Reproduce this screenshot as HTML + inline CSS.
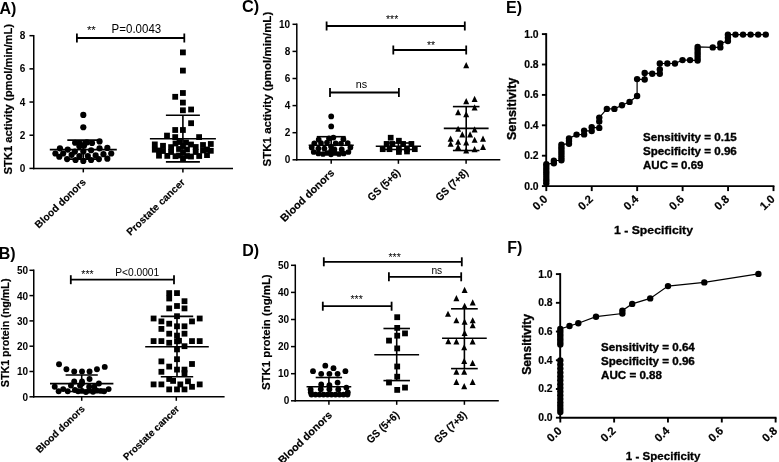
<!DOCTYPE html><html><head><meta charset="utf-8"><style>html,body{margin:0;padding:0;background:#fff;}svg{display:block;}text{font-family:"Liberation Sans",sans-serif;fill:#000;}</style></head><body>
<svg width="779" height="462" viewBox="0 0 779 462" style="filter:grayscale(1)">
<rect width="779" height="462" fill="#fff"/>
<text x="-0.60" y="13.80" font-size="16" font-weight="bold">A)</text>
<text x="-1.20" y="258.80" font-size="16" font-weight="bold">B)</text>
<text x="242.00" y="12.30" font-size="16.3" font-weight="bold">C)</text>
<text x="242.30" y="255.60" font-size="16" font-weight="bold">D)</text>
<text x="506.10" y="12.80" font-size="16" font-weight="bold">E)</text>
<text x="507.20" y="252.80" font-size="16" font-weight="bold">F)</text>
<line x1="33.75" y1="34.93" x2="33.75" y2="169.15" stroke="#000" stroke-width="1.5"/>
<line x1="29.45" y1="168.40" x2="33.75" y2="168.40" stroke="#000" stroke-width="1.5"/>
<text x="25.20" y="172.00" font-size="10" font-weight="bold" text-anchor="end">0</text>
<line x1="29.45" y1="135.22" x2="33.75" y2="135.22" stroke="#000" stroke-width="1.5"/>
<text x="25.20" y="138.82" font-size="10" font-weight="bold" text-anchor="end">2</text>
<line x1="29.45" y1="102.04" x2="33.75" y2="102.04" stroke="#000" stroke-width="1.5"/>
<text x="25.20" y="105.64" font-size="10" font-weight="bold" text-anchor="end">4</text>
<line x1="29.45" y1="68.86" x2="33.75" y2="68.86" stroke="#000" stroke-width="1.5"/>
<text x="25.20" y="72.46" font-size="10" font-weight="bold" text-anchor="end">6</text>
<line x1="29.45" y1="35.68" x2="33.75" y2="35.68" stroke="#000" stroke-width="1.5"/>
<text x="25.20" y="39.28" font-size="10" font-weight="bold" text-anchor="end">8</text>
<line x1="33.00" y1="168.40" x2="233.00" y2="168.40" stroke="#000" stroke-width="1.5"/>
<line x1="83.30" y1="168.40" x2="83.30" y2="172.40" stroke="#000" stroke-width="1.5"/>
<line x1="182.90" y1="168.40" x2="182.90" y2="172.40" stroke="#000" stroke-width="1.5"/>
<text x="12.50" y="99.20" font-size="11.8" font-weight="bold" text-anchor="middle" textLength="150.50" lengthAdjust="spacingAndGlyphs" transform="rotate(-90 12.50 99.20)" stroke="#000" stroke-width="0.2">STK1 activity (pmol/min/mL)</text>
<text x="86.50" y="182.80" font-size="10.2" font-weight="bold" text-anchor="end" transform="rotate(-44 86.50 182.80)" stroke="#000" stroke-width="0.15">Blood donors</text>
<text x="185.60" y="183.00" font-size="10.2" font-weight="bold" text-anchor="end" transform="rotate(-44 185.60 183.00)" stroke="#000" stroke-width="0.15">Prostate cancer</text>
<line x1="76.90" y1="38.00" x2="184.30" y2="38.00" stroke="#000" stroke-width="1.8"/>
<line x1="76.90" y1="33.50" x2="76.90" y2="42.50" stroke="#000" stroke-width="1.8"/>
<line x1="184.30" y1="33.50" x2="184.30" y2="42.50" stroke="#000" stroke-width="1.8"/>
<text x="86.90" y="34.00" font-size="11.5" font-weight="normal">**</text>
<text x="111.60" y="32.90" font-size="13" font-weight="normal" textLength="49.60" lengthAdjust="spacingAndGlyphs">P=0.0043</text>
<line x1="49.80" y1="149.60" x2="116.80" y2="149.60" stroke="#000" stroke-width="1.6"/>
<line x1="67.30" y1="159.10" x2="99.30" y2="159.10" stroke="#000" stroke-width="1.6"/>
<line x1="67.30" y1="140.10" x2="99.30" y2="140.10" stroke="#000" stroke-width="1.6"/>
<line x1="83.30" y1="159.10" x2="83.30" y2="140.10" stroke="#000" stroke-width="1.6"/>
<circle cx="83.31" cy="114.94" r="3.1"/>
<circle cx="83.31" cy="127.27" r="3.1"/>
<circle cx="75.13" cy="142.73" r="3.1"/>
<circle cx="79.81" cy="143.51" r="3.1"/>
<circle cx="86.82" cy="142.47" r="3.1"/>
<circle cx="92.01" cy="142.99" r="3.1"/>
<circle cx="99.55" cy="141.43" r="3.1"/>
<circle cx="79.42" cy="146.36" r="3.1"/>
<circle cx="83.96" cy="145.71" r="3.1"/>
<circle cx="59.94" cy="148.31" r="3.1"/>
<circle cx="67.73" cy="149.61" r="3.1"/>
<circle cx="99.55" cy="148.31" r="3.1"/>
<circle cx="107.34" cy="147.92" r="3.1"/>
<circle cx="55.39" cy="153.51" r="3.1"/>
<circle cx="63.18" cy="153.51" r="3.1"/>
<circle cx="74.87" cy="151.56" r="3.1"/>
<circle cx="83.31" cy="151.56" r="3.1"/>
<circle cx="91.10" cy="150.26" r="3.1"/>
<circle cx="103.44" cy="154.16" r="3.1"/>
<circle cx="111.23" cy="153.51" r="3.1"/>
<circle cx="59.29" cy="156.75" r="3.1"/>
<circle cx="71.62" cy="154.81" r="3.1"/>
<circle cx="79.42" cy="156.10" r="3.1"/>
<circle cx="87.86" cy="156.10" r="3.1"/>
<circle cx="95.65" cy="155.45" r="3.1"/>
<circle cx="67.08" cy="159.09" r="3.1"/>
<circle cx="75.52" cy="160.00" r="3.1"/>
<circle cx="83.31" cy="160.91" r="3.1"/>
<circle cx="91.10" cy="160.00" r="3.1"/>
<circle cx="98.90" cy="159.09" r="3.1"/>
<circle cx="107.34" cy="158.70" r="3.1"/>
<line x1="149.90" y1="138.70" x2="215.90" y2="138.70" stroke="#000" stroke-width="1.6"/>
<line x1="165.90" y1="161.90" x2="199.90" y2="161.90" stroke="#000" stroke-width="1.6"/>
<line x1="165.90" y1="115.20" x2="199.90" y2="115.20" stroke="#000" stroke-width="1.6"/>
<line x1="182.90" y1="161.90" x2="182.90" y2="115.20" stroke="#000" stroke-width="1.6"/>
<rect x="180.00" y="49.50" width="5.8" height="5.8"/>
<rect x="180.00" y="67.70" width="5.8" height="5.8"/>
<rect x="180.00" y="90.10" width="5.8" height="5.8"/>
<rect x="172.30" y="93.90" width="5.8" height="5.8"/>
<rect x="180.00" y="99.70" width="5.8" height="5.8"/>
<rect x="180.00" y="107.40" width="5.8" height="5.8"/>
<rect x="188.20" y="106.60" width="5.8" height="5.8"/>
<rect x="188.20" y="120.30" width="5.8" height="5.8"/>
<rect x="172.30" y="127.10" width="5.8" height="5.8"/>
<rect x="180.00" y="127.10" width="5.8" height="5.8"/>
<rect x="164.10" y="132.70" width="5.8" height="5.8"/>
<rect x="172.30" y="134.20" width="5.8" height="5.8"/>
<rect x="196.20" y="134.20" width="5.8" height="5.8"/>
<rect x="151.90" y="141.50" width="5.8" height="5.8"/>
<rect x="151.90" y="146.80" width="5.8" height="5.8"/>
<rect x="156.10" y="152.80" width="5.8" height="5.8"/>
<rect x="160.10" y="142.90" width="5.8" height="5.8"/>
<rect x="160.10" y="148.10" width="5.8" height="5.8"/>
<rect x="164.40" y="153.00" width="5.8" height="5.8"/>
<rect x="168.20" y="144.20" width="5.8" height="5.8"/>
<rect x="168.20" y="149.10" width="5.8" height="5.8"/>
<rect x="172.60" y="153.30" width="5.8" height="5.8"/>
<rect x="172.60" y="140.60" width="5.8" height="5.8"/>
<rect x="207.90" y="141.10" width="5.8" height="5.8"/>
<rect x="207.90" y="147.90" width="5.8" height="5.8"/>
<rect x="204.10" y="152.20" width="5.8" height="5.8"/>
<rect x="200.10" y="142.10" width="5.8" height="5.8"/>
<rect x="200.10" y="147.60" width="5.8" height="5.8"/>
<rect x="196.30" y="153.10" width="5.8" height="5.8"/>
<rect x="192.80" y="144.10" width="5.8" height="5.8"/>
<rect x="192.80" y="149.10" width="5.8" height="5.8"/>
<rect x="188.10" y="153.60" width="5.8" height="5.8"/>
<rect x="176.60" y="139.10" width="5.8" height="5.8"/>
<rect x="183.10" y="139.60" width="5.8" height="5.8"/>
<rect x="180.10" y="143.10" width="5.8" height="5.8"/>
<rect x="176.10" y="146.10" width="5.8" height="5.8"/>
<rect x="184.10" y="146.60" width="5.8" height="5.8"/>
<rect x="188.10" y="141.60" width="5.8" height="5.8"/>
<rect x="180.10" y="149.60" width="5.8" height="5.8"/>
<rect x="176.10" y="152.60" width="5.8" height="5.8"/>
<rect x="184.10" y="153.10" width="5.8" height="5.8"/>
<rect x="180.10" y="155.60" width="5.8" height="5.8"/>
<rect x="156.10" y="147.60" width="5.8" height="5.8"/>
<rect x="204.10" y="146.60" width="5.8" height="5.8"/>
<line x1="33.75" y1="269.55" x2="33.75" y2="397.55" stroke="#000" stroke-width="1.5"/>
<line x1="29.45" y1="396.80" x2="33.75" y2="396.80" stroke="#000" stroke-width="1.5"/>
<text x="28.00" y="400.70" font-size="10" font-weight="bold" text-anchor="end">0</text>
<line x1="29.45" y1="371.50" x2="33.75" y2="371.50" stroke="#000" stroke-width="1.5"/>
<text x="28.00" y="375.40" font-size="10" font-weight="bold" text-anchor="end">10</text>
<line x1="29.45" y1="346.20" x2="33.75" y2="346.20" stroke="#000" stroke-width="1.5"/>
<text x="28.00" y="350.10" font-size="10" font-weight="bold" text-anchor="end">20</text>
<line x1="29.45" y1="320.90" x2="33.75" y2="320.90" stroke="#000" stroke-width="1.5"/>
<text x="28.00" y="324.80" font-size="10" font-weight="bold" text-anchor="end">30</text>
<line x1="29.45" y1="295.60" x2="33.75" y2="295.60" stroke="#000" stroke-width="1.5"/>
<text x="28.00" y="299.50" font-size="10" font-weight="bold" text-anchor="end">40</text>
<line x1="29.45" y1="270.30" x2="33.75" y2="270.30" stroke="#000" stroke-width="1.5"/>
<text x="28.00" y="274.20" font-size="10" font-weight="bold" text-anchor="end">50</text>
<line x1="33.00" y1="396.80" x2="224.60" y2="396.80" stroke="#000" stroke-width="1.5"/>
<line x1="81.70" y1="396.80" x2="81.70" y2="400.80" stroke="#000" stroke-width="1.5"/>
<line x1="176.30" y1="396.80" x2="176.30" y2="400.80" stroke="#000" stroke-width="1.5"/>
<text x="9.50" y="332.90" font-size="10.6" font-weight="bold" text-anchor="middle" textLength="108.70" lengthAdjust="spacingAndGlyphs" transform="rotate(-90 9.50 332.90)" stroke="#000" stroke-width="0.2">STK1 protein (ng/mL)</text>
<text x="85.50" y="409.40" font-size="9.8" font-weight="bold" text-anchor="end" transform="rotate(-44 85.50 409.40)" stroke="#000" stroke-width="0.15">Blood donors</text>
<text x="180.00" y="409.70" font-size="9.8" font-weight="bold" text-anchor="end" transform="rotate(-44 180.00 409.70)" stroke="#000" stroke-width="0.15">Prostate cancer</text>
<line x1="70.80" y1="279.70" x2="174.00" y2="279.70" stroke="#000" stroke-width="1.8"/>
<line x1="70.80" y1="275.20" x2="70.80" y2="284.20" stroke="#000" stroke-width="1.8"/>
<line x1="174.00" y1="275.20" x2="174.00" y2="284.20" stroke="#000" stroke-width="1.8"/>
<text x="81.30" y="277.80" font-size="10.5" font-weight="normal">***</text>
<text x="115.20" y="275.80" font-size="10" font-weight="normal" textLength="44.00" lengthAdjust="spacingAndGlyphs">P&lt;0.0001</text>
<line x1="50.00" y1="383.60" x2="113.40" y2="383.60" stroke="#000" stroke-width="1.6"/>
<line x1="65.60" y1="391.50" x2="97.80" y2="391.50" stroke="#000" stroke-width="1.6"/>
<line x1="65.60" y1="375.00" x2="97.80" y2="375.00" stroke="#000" stroke-width="1.6"/>
<line x1="81.70" y1="391.50" x2="81.70" y2="375.00" stroke="#000" stroke-width="1.6"/>
<circle cx="59.03" cy="364.29" r="2.95"/>
<circle cx="66.43" cy="369.22" r="2.95"/>
<circle cx="74.22" cy="371.43" r="2.95"/>
<circle cx="82.01" cy="371.43" r="2.95"/>
<circle cx="89.55" cy="371.43" r="2.95"/>
<circle cx="96.95" cy="369.22" r="2.95"/>
<circle cx="104.74" cy="366.88" r="2.95"/>
<circle cx="89.55" cy="378.96" r="2.95"/>
<circle cx="74.22" cy="381.56" r="2.95"/>
<circle cx="82.01" cy="381.56" r="2.95"/>
<circle cx="98.90" cy="383.51" r="2.95"/>
<circle cx="54.74" cy="386.75" r="2.95"/>
<circle cx="70.97" cy="385.45" r="2.95"/>
<circle cx="80.06" cy="385.45" r="2.95"/>
<circle cx="89.16" cy="386.75" r="2.95"/>
<circle cx="94.35" cy="386.75" r="2.95"/>
<circle cx="82.01" cy="383.51" r="2.95"/>
<circle cx="58.64" cy="391.30" r="2.95"/>
<circle cx="63.18" cy="389.09" r="2.95"/>
<circle cx="67.73" cy="391.30" r="2.95"/>
<circle cx="74.87" cy="390.00" r="2.95"/>
<circle cx="82.01" cy="390.91" r="2.95"/>
<circle cx="89.16" cy="390.65" r="2.95"/>
<circle cx="96.95" cy="390.65" r="2.95"/>
<circle cx="104.09" cy="391.30" r="2.95"/>
<circle cx="108.64" cy="389.09" r="2.95"/>
<circle cx="78.12" cy="391.30" r="2.95"/>
<circle cx="85.91" cy="391.95" r="2.95"/>
<circle cx="93.05" cy="391.69" r="2.95"/>
<circle cx="100.84" cy="390.91" r="2.95"/>
<line x1="145.20" y1="346.80" x2="208.80" y2="346.80" stroke="#000" stroke-width="1.6"/>
<line x1="160.80" y1="376.80" x2="193.20" y2="376.80" stroke="#000" stroke-width="1.6"/>
<line x1="160.80" y1="316.40" x2="193.20" y2="316.40" stroke="#000" stroke-width="1.6"/>
<line x1="177.00" y1="376.80" x2="177.00" y2="316.40" stroke="#000" stroke-width="1.6"/>
<rect x="166.30" y="290.20" width="5.8" height="5.8"/>
<rect x="166.30" y="295.60" width="5.8" height="5.8"/>
<rect x="174.10" y="290.20" width="5.8" height="5.8"/>
<rect x="181.60" y="298.30" width="5.8" height="5.8"/>
<rect x="166.30" y="305.50" width="5.8" height="5.8"/>
<rect x="174.10" y="303.10" width="5.8" height="5.8"/>
<rect x="181.60" y="305.50" width="5.8" height="5.8"/>
<rect x="174.10" y="313.30" width="5.8" height="5.8"/>
<rect x="150.70" y="315.60" width="5.8" height="5.8"/>
<rect x="196.80" y="315.60" width="5.8" height="5.8"/>
<rect x="158.50" y="318.50" width="5.8" height="5.8"/>
<rect x="189.10" y="318.50" width="5.8" height="5.8"/>
<rect x="166.30" y="320.80" width="5.8" height="5.8"/>
<rect x="174.10" y="323.40" width="5.8" height="5.8"/>
<rect x="181.60" y="323.40" width="5.8" height="5.8"/>
<rect x="158.50" y="326.00" width="5.8" height="5.8"/>
<rect x="166.30" y="330.80" width="5.8" height="5.8"/>
<rect x="174.10" y="332.70" width="5.8" height="5.8"/>
<rect x="181.60" y="330.80" width="5.8" height="5.8"/>
<rect x="150.70" y="338.20" width="5.8" height="5.8"/>
<rect x="158.50" y="338.20" width="5.8" height="5.8"/>
<rect x="166.30" y="339.90" width="5.8" height="5.8"/>
<rect x="176.10" y="337.90" width="5.8" height="5.8"/>
<rect x="189.10" y="338.20" width="5.8" height="5.8"/>
<rect x="196.80" y="338.20" width="5.8" height="5.8"/>
<rect x="174.10" y="338.40" width="5.8" height="5.8"/>
<rect x="181.60" y="343.30" width="5.8" height="5.8"/>
<rect x="174.10" y="346.50" width="5.8" height="5.8"/>
<rect x="174.10" y="356.30" width="5.8" height="5.8"/>
<rect x="158.50" y="358.50" width="5.8" height="5.8"/>
<rect x="189.10" y="361.10" width="5.8" height="5.8"/>
<rect x="166.30" y="363.70" width="5.8" height="5.8"/>
<rect x="174.10" y="366.70" width="5.8" height="5.8"/>
<rect x="181.60" y="366.70" width="5.8" height="5.8"/>
<rect x="181.60" y="370.20" width="5.8" height="5.8"/>
<rect x="158.50" y="368.90" width="5.8" height="5.8"/>
<rect x="166.30" y="376.10" width="5.8" height="5.8"/>
<rect x="170.20" y="378.00" width="5.8" height="5.8"/>
<rect x="185.10" y="378.40" width="5.8" height="5.8"/>
<rect x="150.70" y="381.50" width="5.8" height="5.8"/>
<rect x="158.50" y="381.50" width="5.8" height="5.8"/>
<rect x="177.40" y="381.50" width="5.8" height="5.8"/>
<rect x="189.10" y="383.90" width="5.8" height="5.8"/>
<rect x="196.80" y="381.50" width="5.8" height="5.8"/>
<rect x="166.30" y="386.50" width="5.8" height="5.8"/>
<rect x="174.10" y="386.50" width="5.8" height="5.8"/>
<rect x="181.60" y="386.50" width="5.8" height="5.8"/>
<line x1="296.80" y1="23.55" x2="296.80" y2="160.55" stroke="#000" stroke-width="1.5"/>
<line x1="292.50" y1="159.80" x2="296.80" y2="159.80" stroke="#000" stroke-width="1.5"/>
<text x="290.20" y="163.40" font-size="10" font-weight="bold" text-anchor="end">0</text>
<line x1="292.50" y1="132.70" x2="296.80" y2="132.70" stroke="#000" stroke-width="1.5"/>
<text x="290.20" y="136.30" font-size="10" font-weight="bold" text-anchor="end">2</text>
<line x1="292.50" y1="105.60" x2="296.80" y2="105.60" stroke="#000" stroke-width="1.5"/>
<text x="290.20" y="109.20" font-size="10" font-weight="bold" text-anchor="end">4</text>
<line x1="292.50" y1="78.50" x2="296.80" y2="78.50" stroke="#000" stroke-width="1.5"/>
<text x="290.20" y="82.10" font-size="10" font-weight="bold" text-anchor="end">6</text>
<line x1="292.50" y1="51.40" x2="296.80" y2="51.40" stroke="#000" stroke-width="1.5"/>
<text x="290.20" y="55.00" font-size="10" font-weight="bold" text-anchor="end">8</text>
<line x1="292.50" y1="24.30" x2="296.80" y2="24.30" stroke="#000" stroke-width="1.5"/>
<text x="290.20" y="27.90" font-size="10" font-weight="bold" text-anchor="end">10</text>
<line x1="296.05" y1="159.80" x2="500.30" y2="159.80" stroke="#000" stroke-width="1.5"/>
<line x1="331.20" y1="159.80" x2="331.20" y2="163.80" stroke="#000" stroke-width="1.5"/>
<line x1="398.40" y1="159.80" x2="398.40" y2="163.80" stroke="#000" stroke-width="1.5"/>
<line x1="466.10" y1="159.80" x2="466.10" y2="163.80" stroke="#000" stroke-width="1.5"/>
<text x="271.50" y="89.10" font-size="11.6" font-weight="bold" text-anchor="middle" textLength="154.70" lengthAdjust="spacingAndGlyphs" transform="rotate(-90 271.50 89.10)" stroke="#000" stroke-width="0.2">STK1 activity (pmol/min/mL)</text>
<text x="335.10" y="173.70" font-size="10.8" font-weight="bold" text-anchor="end" transform="rotate(-44 335.10 173.70)" stroke="#000" stroke-width="0.15">Blood donors</text>
<text x="401.00" y="173.50" font-size="10.8" font-weight="bold" text-anchor="end" textLength="40.50" lengthAdjust="spacingAndGlyphs" transform="rotate(-44 401.00 173.50)" stroke="#000" stroke-width="0.15">GS (5+6)</text>
<text x="468.80" y="173.50" font-size="10.8" font-weight="bold" text-anchor="end" textLength="40.50" lengthAdjust="spacingAndGlyphs" transform="rotate(-44 468.80 173.50)" stroke="#000" stroke-width="0.15">GS (7+8)</text>
<line x1="326.60" y1="26.00" x2="464.80" y2="26.00" stroke="#000" stroke-width="1.8"/>
<line x1="326.60" y1="21.50" x2="326.60" y2="30.50" stroke="#000" stroke-width="1.8"/>
<line x1="464.80" y1="21.50" x2="464.80" y2="30.50" stroke="#000" stroke-width="1.8"/>
<line x1="393.30" y1="50.00" x2="466.20" y2="50.00" stroke="#000" stroke-width="1.8"/>
<line x1="393.30" y1="45.50" x2="393.30" y2="54.50" stroke="#000" stroke-width="1.8"/>
<line x1="466.20" y1="45.50" x2="466.20" y2="54.50" stroke="#000" stroke-width="1.8"/>
<line x1="330.00" y1="92.50" x2="398.90" y2="92.50" stroke="#000" stroke-width="1.8"/>
<line x1="330.00" y1="88.00" x2="330.00" y2="97.00" stroke="#000" stroke-width="1.8"/>
<line x1="398.90" y1="88.00" x2="398.90" y2="97.00" stroke="#000" stroke-width="1.8"/>
<text x="386.00" y="22.50" font-size="10.5" font-weight="normal">***</text>
<text x="427.00" y="48.80" font-size="10.5" font-weight="normal">**</text>
<text x="355.80" y="88.30" font-size="11" font-weight="normal" textLength="11.40" lengthAdjust="spacingAndGlyphs">ns</text>
<line x1="308.65" y1="145.30" x2="353.75" y2="145.30" stroke="#000" stroke-width="1.6"/>
<line x1="316.75" y1="154.00" x2="345.65" y2="154.00" stroke="#000" stroke-width="1.6"/>
<line x1="316.75" y1="136.70" x2="345.65" y2="136.70" stroke="#000" stroke-width="1.6"/>
<line x1="331.20" y1="154.00" x2="331.20" y2="136.70" stroke="#000" stroke-width="1.6"/>
<circle cx="331.20" cy="116.40" r="2.85"/>
<circle cx="331.20" cy="126.40" r="2.85"/>
<circle cx="318.70" cy="139.70" r="2.85"/>
<circle cx="329.00" cy="138.40" r="2.85"/>
<circle cx="333.40" cy="137.60" r="2.85"/>
<circle cx="343.40" cy="139.20" r="2.85"/>
<circle cx="314.30" cy="143.30" r="2.85"/>
<circle cx="321.00" cy="143.00" r="2.85"/>
<circle cx="327.00" cy="142.50" r="2.85"/>
<circle cx="335.70" cy="143.30" r="2.85"/>
<circle cx="341.00" cy="143.50" r="2.85"/>
<circle cx="347.70" cy="143.00" r="2.85"/>
<circle cx="311.70" cy="147.40" r="2.85"/>
<circle cx="318.40" cy="148.50" r="2.85"/>
<circle cx="324.40" cy="148.50" r="2.85"/>
<circle cx="331.00" cy="146.50" r="2.85"/>
<circle cx="334.40" cy="149.40" r="2.85"/>
<circle cx="341.70" cy="149.40" r="2.85"/>
<circle cx="350.40" cy="147.40" r="2.85"/>
<circle cx="313.70" cy="152.00" r="2.85"/>
<circle cx="348.40" cy="152.00" r="2.85"/>
<circle cx="331.00" cy="151.00" r="2.85"/>
<circle cx="318.40" cy="153.40" r="2.85"/>
<circle cx="323.00" cy="154.00" r="2.85"/>
<circle cx="331.00" cy="154.30" r="2.85"/>
<circle cx="339.00" cy="154.00" r="2.85"/>
<circle cx="343.70" cy="153.40" r="2.85"/>
<circle cx="327.00" cy="153.00" r="2.85"/>
<circle cx="335.00" cy="153.00" r="2.85"/>
<line x1="375.75" y1="146.30" x2="421.05" y2="146.30" stroke="#000" stroke-width="1.6"/>
<line x1="384.40" y1="149.50" x2="412.40" y2="149.50" stroke="#000" stroke-width="1.6"/>
<line x1="384.40" y1="143.00" x2="412.40" y2="143.00" stroke="#000" stroke-width="1.6"/>
<line x1="398.40" y1="149.50" x2="398.40" y2="143.00" stroke="#000" stroke-width="1.6"/>
<rect x="387.85" y="134.85" width="5.7" height="5.7"/>
<rect x="396.05" y="137.85" width="5.7" height="5.7"/>
<rect x="383.75" y="141.05" width="5.7" height="5.7"/>
<rect x="389.55" y="141.05" width="5.7" height="5.7"/>
<rect x="400.25" y="141.05" width="5.7" height="5.7"/>
<rect x="408.55" y="141.05" width="5.7" height="5.7"/>
<rect x="379.85" y="146.35" width="5.7" height="5.7"/>
<rect x="386.65" y="146.35" width="5.7" height="5.7"/>
<rect x="396.05" y="146.35" width="5.7" height="5.7"/>
<rect x="404.15" y="146.35" width="5.7" height="5.7"/>
<rect x="411.95" y="146.35" width="5.7" height="5.7"/>
<rect x="396.05" y="149.15" width="5.7" height="5.7"/>
<rect x="404.15" y="148.65" width="5.7" height="5.7"/>
<line x1="443.80" y1="128.40" x2="488.60" y2="128.40" stroke="#000" stroke-width="1.6"/>
<line x1="452.90" y1="150.50" x2="479.50" y2="150.50" stroke="#000" stroke-width="1.6"/>
<line x1="452.90" y1="106.60" x2="479.50" y2="106.60" stroke="#000" stroke-width="1.6"/>
<line x1="466.20" y1="150.50" x2="466.20" y2="106.60" stroke="#000" stroke-width="1.6"/>
<polygon points="466.20,62.05 469.20,68.25 463.20,68.25"/>
<polygon points="466.20,98.05 469.20,104.25 463.20,104.25"/>
<polygon points="474.60,95.85 477.60,102.05 471.60,102.05"/>
<polygon points="474.60,104.25 477.60,110.45 471.60,110.45"/>
<polygon points="458.10,108.95 461.10,115.15 455.10,115.15"/>
<polygon points="466.20,111.05 469.20,117.25 463.20,117.25"/>
<polygon points="458.10,125.65 461.10,131.85 455.10,131.85"/>
<polygon points="474.60,126.35 477.60,132.55 471.60,132.55"/>
<polygon points="462.30,131.25 465.30,137.45 459.30,137.45"/>
<polygon points="470.10,131.25 473.10,137.45 467.10,137.45"/>
<polygon points="450.60,135.45 453.60,141.65 447.60,141.65"/>
<polygon points="483.00,135.45 486.00,141.65 480.00,141.65"/>
<polygon points="474.60,136.65 477.60,142.85 471.60,142.85"/>
<polygon points="458.10,138.65 461.10,144.85 455.10,144.85"/>
<polygon points="466.20,139.35 469.20,145.55 463.20,145.55"/>
<polygon points="450.60,140.65 453.60,146.85 447.60,146.85"/>
<polygon points="458.10,143.85 461.10,150.05 455.10,150.05"/>
<polygon points="483.00,143.85 486.00,150.05 480.00,150.05"/>
<polygon points="474.60,146.05 477.60,152.25 471.60,152.25"/>
<polygon points="466.20,147.35 469.20,153.55 463.20,153.55"/>
<line x1="295.30" y1="264.55" x2="295.30" y2="401.55" stroke="#000" stroke-width="1.5"/>
<line x1="291.00" y1="400.80" x2="295.30" y2="400.80" stroke="#000" stroke-width="1.5"/>
<text x="289.20" y="404.40" font-size="10" font-weight="bold" text-anchor="end">0</text>
<line x1="291.00" y1="373.70" x2="295.30" y2="373.70" stroke="#000" stroke-width="1.5"/>
<text x="289.20" y="377.30" font-size="10" font-weight="bold" text-anchor="end">10</text>
<line x1="291.00" y1="346.60" x2="295.30" y2="346.60" stroke="#000" stroke-width="1.5"/>
<text x="289.20" y="350.20" font-size="10" font-weight="bold" text-anchor="end">20</text>
<line x1="291.00" y1="319.50" x2="295.30" y2="319.50" stroke="#000" stroke-width="1.5"/>
<text x="289.20" y="323.10" font-size="10" font-weight="bold" text-anchor="end">30</text>
<line x1="291.00" y1="292.40" x2="295.30" y2="292.40" stroke="#000" stroke-width="1.5"/>
<text x="289.20" y="296.00" font-size="10" font-weight="bold" text-anchor="end">40</text>
<line x1="291.00" y1="265.30" x2="295.30" y2="265.30" stroke="#000" stroke-width="1.5"/>
<text x="289.20" y="268.90" font-size="10" font-weight="bold" text-anchor="end">50</text>
<line x1="294.55" y1="400.80" x2="498.80" y2="400.80" stroke="#000" stroke-width="1.5"/>
<line x1="328.90" y1="400.80" x2="328.90" y2="404.80" stroke="#000" stroke-width="1.5"/>
<line x1="396.70" y1="400.80" x2="396.70" y2="404.80" stroke="#000" stroke-width="1.5"/>
<line x1="464.40" y1="400.80" x2="464.40" y2="404.80" stroke="#000" stroke-width="1.5"/>
<text x="270.20" y="332.20" font-size="11.3" font-weight="bold" text-anchor="middle" textLength="115.70" lengthAdjust="spacingAndGlyphs" transform="rotate(-90 270.20 332.20)" stroke="#000" stroke-width="0.2">STK1 protein (ng/mL)</text>
<text x="332.90" y="415.80" font-size="10.8" font-weight="bold" text-anchor="end" transform="rotate(-44 332.90 415.80)" stroke="#000" stroke-width="0.15">Blood donors</text>
<text x="399.80" y="415.80" font-size="10.8" font-weight="bold" text-anchor="end" textLength="40.50" lengthAdjust="spacingAndGlyphs" transform="rotate(-44 399.80 415.80)" stroke="#000" stroke-width="0.15">GS (5+6)</text>
<text x="467.40" y="415.80" font-size="10.8" font-weight="bold" text-anchor="end" textLength="40.50" lengthAdjust="spacingAndGlyphs" transform="rotate(-44 467.40 415.80)" stroke="#000" stroke-width="0.15">GS (7+8)</text>
<line x1="323.80" y1="261.80" x2="461.80" y2="261.80" stroke="#000" stroke-width="1.8"/>
<line x1="323.80" y1="257.30" x2="323.80" y2="266.30" stroke="#000" stroke-width="1.8"/>
<line x1="461.80" y1="257.30" x2="461.80" y2="266.30" stroke="#000" stroke-width="1.8"/>
<line x1="388.90" y1="276.80" x2="461.20" y2="276.80" stroke="#000" stroke-width="1.8"/>
<line x1="388.90" y1="272.30" x2="388.90" y2="281.30" stroke="#000" stroke-width="1.8"/>
<line x1="461.20" y1="272.30" x2="461.20" y2="281.30" stroke="#000" stroke-width="1.8"/>
<line x1="322.80" y1="306.20" x2="391.60" y2="306.20" stroke="#000" stroke-width="1.8"/>
<line x1="322.80" y1="301.70" x2="322.80" y2="310.70" stroke="#000" stroke-width="1.8"/>
<line x1="391.60" y1="301.70" x2="391.60" y2="310.70" stroke="#000" stroke-width="1.8"/>
<text x="388.50" y="261.00" font-size="10.5" font-weight="normal">***</text>
<text x="431.40" y="273.80" font-size="11" font-weight="normal" textLength="10.80" lengthAdjust="spacingAndGlyphs">ns</text>
<text x="350.50" y="302.60" font-size="10.5" font-weight="normal">***</text>
<line x1="306.55" y1="386.70" x2="351.25" y2="386.70" stroke="#000" stroke-width="1.6"/>
<line x1="315.70" y1="395.50" x2="342.10" y2="395.50" stroke="#000" stroke-width="1.6"/>
<line x1="315.70" y1="377.50" x2="342.10" y2="377.50" stroke="#000" stroke-width="1.6"/>
<line x1="328.90" y1="395.50" x2="328.90" y2="377.50" stroke="#000" stroke-width="1.6"/>
<circle cx="325.30" cy="365.70" r="2.9"/>
<circle cx="333.50" cy="368.20" r="2.9"/>
<circle cx="313.00" cy="371.20" r="2.9"/>
<circle cx="345.40" cy="371.20" r="2.9"/>
<circle cx="321.20" cy="373.80" r="2.9"/>
<circle cx="329.40" cy="373.80" r="2.9"/>
<circle cx="337.60" cy="373.80" r="2.9"/>
<circle cx="337.60" cy="382.60" r="2.9"/>
<circle cx="321.20" cy="384.40" r="2.9"/>
<circle cx="329.40" cy="385.20" r="2.9"/>
<circle cx="346.40" cy="387.60" r="2.9"/>
<circle cx="310.60" cy="389.40" r="2.9"/>
<circle cx="320.80" cy="389.20" r="2.9"/>
<circle cx="329.40" cy="389.20" r="2.9"/>
<circle cx="338.30" cy="389.40" r="2.9"/>
<circle cx="310.80" cy="392.30" r="2.9"/>
<circle cx="347.80" cy="392.30" r="2.9"/>
<circle cx="311.50" cy="394.60" r="2.9"/>
<circle cx="315.50" cy="394.60" r="2.9"/>
<circle cx="319.50" cy="394.60" r="2.9"/>
<circle cx="323.50" cy="394.60" r="2.9"/>
<circle cx="327.50" cy="394.60" r="2.9"/>
<circle cx="331.50" cy="394.60" r="2.9"/>
<circle cx="335.50" cy="394.60" r="2.9"/>
<circle cx="339.50" cy="394.60" r="2.9"/>
<circle cx="343.50" cy="394.60" r="2.9"/>
<circle cx="347.50" cy="394.60" r="2.9"/>
<line x1="374.30" y1="354.80" x2="419.10" y2="354.80" stroke="#000" stroke-width="1.6"/>
<line x1="383.45" y1="380.60" x2="409.95" y2="380.60" stroke="#000" stroke-width="1.6"/>
<line x1="383.45" y1="328.50" x2="409.95" y2="328.50" stroke="#000" stroke-width="1.6"/>
<line x1="396.70" y1="380.60" x2="396.70" y2="328.50" stroke="#000" stroke-width="1.6"/>
<rect x="394.30" y="314.30" width="5.8" height="5.8"/>
<rect x="394.30" y="325.00" width="5.8" height="5.8"/>
<rect x="402.10" y="330.50" width="5.8" height="5.8"/>
<rect x="394.30" y="332.80" width="5.8" height="5.8"/>
<rect x="386.10" y="337.70" width="5.8" height="5.8"/>
<rect x="394.30" y="345.50" width="5.8" height="5.8"/>
<rect x="394.30" y="363.60" width="5.8" height="5.8"/>
<rect x="394.30" y="373.80" width="5.8" height="5.8"/>
<rect x="386.10" y="379.60" width="5.8" height="5.8"/>
<rect x="402.10" y="384.70" width="5.8" height="5.8"/>
<rect x="394.30" y="387.00" width="5.8" height="5.8"/>
<line x1="442.05" y1="338.20" x2="486.75" y2="338.20" stroke="#000" stroke-width="1.6"/>
<line x1="451.05" y1="368.60" x2="477.75" y2="368.60" stroke="#000" stroke-width="1.6"/>
<line x1="451.05" y1="308.80" x2="477.75" y2="308.80" stroke="#000" stroke-width="1.6"/>
<line x1="464.40" y1="368.60" x2="464.40" y2="308.80" stroke="#000" stroke-width="1.6"/>
<polygon points="464.60,286.75 467.60,292.95 461.60,292.95"/>
<polygon points="456.40,295.05 459.40,301.25 453.40,301.25"/>
<polygon points="472.70,299.35 475.70,305.55 469.70,305.55"/>
<polygon points="464.60,302.65 467.60,308.85 461.60,308.85"/>
<polygon points="448.00,310.65 451.00,316.85 445.00,316.85"/>
<polygon points="456.40,317.15 459.40,323.35 453.40,323.35"/>
<polygon points="464.60,318.45 467.60,324.65 461.60,324.65"/>
<polygon points="472.70,317.15 475.70,323.35 469.70,323.35"/>
<polygon points="472.70,322.15 475.70,328.35 469.70,328.35"/>
<polygon points="464.60,329.85 467.60,336.05 461.60,336.05"/>
<polygon points="448.30,337.95 451.30,344.15 445.30,344.15"/>
<polygon points="456.40,338.35 459.40,344.55 453.40,344.55"/>
<polygon points="472.60,338.35 475.60,344.55 469.60,344.55"/>
<polygon points="464.20,344.15 467.20,350.35 461.20,350.35"/>
<polygon points="464.20,357.75 467.20,363.95 461.20,363.95"/>
<polygon points="472.60,359.85 475.60,366.05 469.60,366.05"/>
<polygon points="456.40,368.45 459.40,374.65 453.40,374.65"/>
<polygon points="464.20,368.45 467.20,374.65 461.20,374.65"/>
<polygon points="456.40,378.85 459.40,385.05 453.40,385.05"/>
<polygon points="472.60,378.85 475.60,385.05 469.60,385.05"/>
<polygon points="464.20,383.05 467.20,389.25 461.20,389.25"/>
<line x1="546.20" y1="33.15" x2="546.20" y2="187.05" stroke="#000" stroke-width="1.9"/>
<line x1="541.90" y1="186.10" x2="546.20" y2="186.10" stroke="#000" stroke-width="1.9"/>
<text x="538.60" y="189.60" font-size="11.8" font-weight="bold" text-anchor="end" textLength="14.40" lengthAdjust="spacingAndGlyphs" stroke="#000" stroke-width="0.2">0.0</text>
<line x1="541.90" y1="155.70" x2="546.20" y2="155.70" stroke="#000" stroke-width="1.9"/>
<text x="538.60" y="159.20" font-size="11.8" font-weight="bold" text-anchor="end" textLength="14.40" lengthAdjust="spacingAndGlyphs" stroke="#000" stroke-width="0.2">0.2</text>
<line x1="541.90" y1="125.30" x2="546.20" y2="125.30" stroke="#000" stroke-width="1.9"/>
<text x="538.60" y="128.80" font-size="11.8" font-weight="bold" text-anchor="end" textLength="14.40" lengthAdjust="spacingAndGlyphs" stroke="#000" stroke-width="0.2">0.4</text>
<line x1="541.90" y1="94.90" x2="546.20" y2="94.90" stroke="#000" stroke-width="1.9"/>
<text x="538.60" y="98.40" font-size="11.8" font-weight="bold" text-anchor="end" textLength="14.40" lengthAdjust="spacingAndGlyphs" stroke="#000" stroke-width="0.2">0.6</text>
<line x1="541.90" y1="64.50" x2="546.20" y2="64.50" stroke="#000" stroke-width="1.9"/>
<text x="538.60" y="68.00" font-size="11.8" font-weight="bold" text-anchor="end" textLength="14.40" lengthAdjust="spacingAndGlyphs" stroke="#000" stroke-width="0.2">0.8</text>
<line x1="541.90" y1="34.10" x2="546.20" y2="34.10" stroke="#000" stroke-width="1.9"/>
<text x="538.60" y="37.60" font-size="11.8" font-weight="bold" text-anchor="end" textLength="14.40" lengthAdjust="spacingAndGlyphs" stroke="#000" stroke-width="0.2">1.0</text>
<line x1="545.25" y1="186.10" x2="774.40" y2="186.10" stroke="#000" stroke-width="1.9"/>
<line x1="546.30" y1="186.10" x2="546.30" y2="191.10" stroke="#000" stroke-width="1.9"/>
<line x1="591.74" y1="186.10" x2="591.74" y2="191.10" stroke="#000" stroke-width="1.9"/>
<line x1="637.18" y1="186.10" x2="637.18" y2="191.10" stroke="#000" stroke-width="1.9"/>
<line x1="682.62" y1="186.10" x2="682.62" y2="191.10" stroke="#000" stroke-width="1.9"/>
<line x1="728.06" y1="186.10" x2="728.06" y2="191.10" stroke="#000" stroke-width="1.9"/>
<line x1="773.50" y1="186.10" x2="773.50" y2="191.10" stroke="#000" stroke-width="1.9"/>
<text x="548.40" y="199.90" font-size="11.3" font-weight="bold" text-anchor="end" transform="rotate(-44 548.40 199.90)" stroke="#000" stroke-width="0.2">0.0</text>
<text x="593.84" y="199.90" font-size="11.3" font-weight="bold" text-anchor="end" transform="rotate(-44 593.84 199.90)" stroke="#000" stroke-width="0.2">0.2</text>
<text x="639.28" y="199.90" font-size="11.3" font-weight="bold" text-anchor="end" transform="rotate(-44 639.28 199.90)" stroke="#000" stroke-width="0.2">0.4</text>
<text x="684.72" y="199.90" font-size="11.3" font-weight="bold" text-anchor="end" transform="rotate(-44 684.72 199.90)" stroke="#000" stroke-width="0.2">0.6</text>
<text x="730.16" y="199.90" font-size="11.3" font-weight="bold" text-anchor="end" transform="rotate(-44 730.16 199.90)" stroke="#000" stroke-width="0.2">0.8</text>
<text x="775.60" y="199.90" font-size="11.3" font-weight="bold" text-anchor="end" transform="rotate(-44 775.60 199.90)" stroke="#000" stroke-width="0.2">1.0</text>
<text x="515.60" y="108.80" font-size="12" font-weight="bold" text-anchor="middle" textLength="62.30" lengthAdjust="spacingAndGlyphs" transform="rotate(-90 515.60 108.80)" stroke="#000" stroke-width="0.35">Sensitivity</text>
<text x="614.00" y="233.90" font-size="11.8" font-weight="bold" textLength="79.00" lengthAdjust="spacingAndGlyphs" stroke="#000" stroke-width="0.3">1 - Specificity</text>
<text x="643.00" y="141.20" font-size="11.7" font-weight="bold" textLength="93.80" lengthAdjust="spacingAndGlyphs" stroke="#000" stroke-width="0.35">Sensitivity = 0.15</text>
<text x="643.00" y="155.20" font-size="11.7" font-weight="bold" textLength="93.80" lengthAdjust="spacingAndGlyphs" stroke="#000" stroke-width="0.35">Specificity = 0.96</text>
<text x="643.00" y="169.30" font-size="11.7" font-weight="bold" textLength="60.50" lengthAdjust="spacingAndGlyphs" stroke="#000" stroke-width="0.35">AUC = 0.69</text>
<polyline fill="none" stroke="#000" stroke-width="1.2" points="546.30,183.30 546.30,180.60 546.30,177.90 546.30,175.10 546.30,172.40 546.30,169.70 546.30,167.00 546.30,164.20 553.87,163.20 553.87,160.70 561.43,160.30 561.43,157.70 561.43,155.10 561.43,152.40 561.43,149.80 561.43,147.20 561.43,144.60 569.00,143.70 569.00,141.00 569.00,138.40 576.57,134.60 584.13,134.40 584.13,130.60 591.70,131.10 591.70,127.30 599.27,127.90 599.27,121.40 599.27,117.60 606.84,108.90 614.40,108.90 621.97,105.20 629.54,101.90 637.10,96.00 637.10,79.10 644.67,79.50 644.67,73.00 652.24,73.70 659.80,73.70 659.80,69.40 659.80,63.50 667.37,63.50 674.94,63.50 682.51,60.10 690.07,60.10 697.64,60.60 697.64,57.90 697.64,55.10 697.64,52.40 697.64,49.60 697.64,46.90 712.77,47.40 720.34,47.40 720.34,43.40 727.91,41.10 727.91,37.70 727.91,34.60 735.47,34.60 743.04,34.60 750.61,34.60 758.18,34.60 765.74,34.60"/>
<circle cx="546.30" cy="183.30" r="3.2"/>
<circle cx="546.30" cy="180.60" r="3.2"/>
<circle cx="546.30" cy="177.90" r="3.2"/>
<circle cx="546.30" cy="175.10" r="3.2"/>
<circle cx="546.30" cy="172.40" r="3.2"/>
<circle cx="546.30" cy="169.70" r="3.2"/>
<circle cx="546.30" cy="167.00" r="3.2"/>
<circle cx="546.30" cy="164.20" r="3.2"/>
<circle cx="553.87" cy="163.20" r="3.2"/>
<circle cx="553.87" cy="160.70" r="3.2"/>
<circle cx="561.43" cy="160.30" r="3.2"/>
<circle cx="561.43" cy="157.70" r="3.2"/>
<circle cx="561.43" cy="155.10" r="3.2"/>
<circle cx="561.43" cy="152.40" r="3.2"/>
<circle cx="561.43" cy="149.80" r="3.2"/>
<circle cx="561.43" cy="147.20" r="3.2"/>
<circle cx="561.43" cy="144.60" r="3.2"/>
<circle cx="569.00" cy="143.70" r="3.2"/>
<circle cx="569.00" cy="141.00" r="3.2"/>
<circle cx="569.00" cy="138.40" r="3.2"/>
<circle cx="576.57" cy="134.60" r="3.2"/>
<circle cx="584.13" cy="134.40" r="3.2"/>
<circle cx="584.13" cy="130.60" r="3.2"/>
<circle cx="591.70" cy="131.10" r="3.2"/>
<circle cx="591.70" cy="127.30" r="3.2"/>
<circle cx="599.27" cy="127.90" r="3.2"/>
<circle cx="599.27" cy="121.40" r="3.2"/>
<circle cx="599.27" cy="117.60" r="3.2"/>
<circle cx="606.84" cy="108.90" r="3.2"/>
<circle cx="614.40" cy="108.90" r="3.2"/>
<circle cx="621.97" cy="105.20" r="3.2"/>
<circle cx="629.54" cy="101.90" r="3.2"/>
<circle cx="637.10" cy="96.00" r="3.2"/>
<circle cx="637.10" cy="79.10" r="3.2"/>
<circle cx="644.67" cy="79.50" r="3.2"/>
<circle cx="644.67" cy="73.00" r="3.2"/>
<circle cx="652.24" cy="73.70" r="3.2"/>
<circle cx="659.80" cy="73.70" r="3.2"/>
<circle cx="659.80" cy="69.40" r="3.2"/>
<circle cx="659.80" cy="63.50" r="3.2"/>
<circle cx="667.37" cy="63.50" r="3.2"/>
<circle cx="674.94" cy="63.50" r="3.2"/>
<circle cx="682.51" cy="60.10" r="3.2"/>
<circle cx="690.07" cy="60.10" r="3.2"/>
<circle cx="697.64" cy="60.60" r="3.2"/>
<circle cx="697.64" cy="57.90" r="3.2"/>
<circle cx="697.64" cy="55.10" r="3.2"/>
<circle cx="697.64" cy="52.40" r="3.2"/>
<circle cx="697.64" cy="49.60" r="3.2"/>
<circle cx="697.64" cy="46.90" r="3.2"/>
<circle cx="712.77" cy="47.40" r="3.2"/>
<circle cx="720.34" cy="47.40" r="3.2"/>
<circle cx="720.34" cy="43.40" r="3.2"/>
<circle cx="727.91" cy="41.10" r="3.2"/>
<circle cx="727.91" cy="37.70" r="3.2"/>
<circle cx="727.91" cy="34.60" r="3.2"/>
<circle cx="735.47" cy="34.60" r="3.2"/>
<circle cx="743.04" cy="34.60" r="3.2"/>
<circle cx="750.61" cy="34.60" r="3.2"/>
<circle cx="758.18" cy="34.60" r="3.2"/>
<circle cx="765.74" cy="34.60" r="3.2"/>
<line x1="560.20" y1="273.15" x2="560.20" y2="418.65" stroke="#000" stroke-width="1.9"/>
<line x1="555.90" y1="417.70" x2="560.20" y2="417.70" stroke="#000" stroke-width="1.9"/>
<text x="552.60" y="421.20" font-size="11.8" font-weight="bold" text-anchor="end" textLength="14.40" lengthAdjust="spacingAndGlyphs" stroke="#000" stroke-width="0.2">0.0</text>
<line x1="555.90" y1="388.98" x2="560.20" y2="388.98" stroke="#000" stroke-width="1.9"/>
<text x="552.60" y="392.48" font-size="11.8" font-weight="bold" text-anchor="end" textLength="14.40" lengthAdjust="spacingAndGlyphs" stroke="#000" stroke-width="0.2">0.2</text>
<line x1="555.90" y1="360.26" x2="560.20" y2="360.26" stroke="#000" stroke-width="1.9"/>
<text x="552.60" y="363.76" font-size="11.8" font-weight="bold" text-anchor="end" textLength="14.40" lengthAdjust="spacingAndGlyphs" stroke="#000" stroke-width="0.2">0.4</text>
<line x1="555.90" y1="331.54" x2="560.20" y2="331.54" stroke="#000" stroke-width="1.9"/>
<text x="552.60" y="335.04" font-size="11.8" font-weight="bold" text-anchor="end" textLength="14.40" lengthAdjust="spacingAndGlyphs" stroke="#000" stroke-width="0.2">0.6</text>
<line x1="555.90" y1="302.82" x2="560.20" y2="302.82" stroke="#000" stroke-width="1.9"/>
<text x="552.60" y="306.32" font-size="11.8" font-weight="bold" text-anchor="end" textLength="14.40" lengthAdjust="spacingAndGlyphs" stroke="#000" stroke-width="0.2">0.8</text>
<line x1="555.90" y1="274.10" x2="560.20" y2="274.10" stroke="#000" stroke-width="1.9"/>
<text x="552.60" y="277.60" font-size="11.8" font-weight="bold" text-anchor="end" textLength="14.40" lengthAdjust="spacingAndGlyphs" stroke="#000" stroke-width="0.2">1.0</text>
<line x1="559.25" y1="417.70" x2="776.50" y2="417.70" stroke="#000" stroke-width="1.9"/>
<line x1="560.30" y1="417.70" x2="560.30" y2="422.50" stroke="#000" stroke-width="1.9"/>
<line x1="614.13" y1="417.70" x2="614.13" y2="422.50" stroke="#000" stroke-width="1.9"/>
<line x1="667.96" y1="417.70" x2="667.96" y2="422.50" stroke="#000" stroke-width="1.9"/>
<line x1="721.79" y1="417.70" x2="721.79" y2="422.50" stroke="#000" stroke-width="1.9"/>
<line x1="775.62" y1="417.70" x2="775.62" y2="422.50" stroke="#000" stroke-width="1.9"/>
<text x="562.60" y="431.60" font-size="11.3" font-weight="bold" text-anchor="end" transform="rotate(-44 562.60 431.60)" stroke="#000" stroke-width="0.2">0.0</text>
<text x="616.43" y="431.60" font-size="11.3" font-weight="bold" text-anchor="end" transform="rotate(-44 616.43 431.60)" stroke="#000" stroke-width="0.2">0.2</text>
<text x="670.26" y="431.60" font-size="11.3" font-weight="bold" text-anchor="end" transform="rotate(-44 670.26 431.60)" stroke="#000" stroke-width="0.2">0.4</text>
<text x="724.09" y="431.60" font-size="11.3" font-weight="bold" text-anchor="end" transform="rotate(-44 724.09 431.60)" stroke="#000" stroke-width="0.2">0.6</text>
<text x="777.92" y="431.60" font-size="11.3" font-weight="bold" text-anchor="end" transform="rotate(-44 777.92 431.60)" stroke="#000" stroke-width="0.2">0.8</text>
<text x="531.50" y="344.40" font-size="12" font-weight="bold" text-anchor="middle" textLength="60.80" lengthAdjust="spacingAndGlyphs" transform="rotate(-90 531.50 344.40)" stroke="#000" stroke-width="0.35">Sensitivity</text>
<text x="625.80" y="460.10" font-size="11.8" font-weight="bold" textLength="74.60" lengthAdjust="spacingAndGlyphs" stroke="#000" stroke-width="0.3">1 - Specificity</text>
<text x="601.00" y="351.00" font-size="11.7" font-weight="bold" textLength="93.80" lengthAdjust="spacingAndGlyphs" stroke="#000" stroke-width="0.35">Sensitivity = 0.64</text>
<text x="601.00" y="364.70" font-size="11.7" font-weight="bold" textLength="93.80" lengthAdjust="spacingAndGlyphs" stroke="#000" stroke-width="0.35">Specificity = 0.96</text>
<text x="601.00" y="378.80" font-size="11.7" font-weight="bold" textLength="61.00" lengthAdjust="spacingAndGlyphs" stroke="#000" stroke-width="0.35">AUC = 0.88</text>
<polyline fill="none" stroke="#000" stroke-width="1.2" points="560.30,412.00 560.30,409.00 560.30,405.80 560.30,402.60 560.30,399.00 560.30,395.20 560.30,391.60 560.30,388.00 560.30,384.20 560.30,380.20 560.30,376.40 560.30,372.60 560.30,368.60 560.30,364.60 560.30,360.40 560.30,344.50 560.30,341.92 560.30,339.34 560.30,336.76 560.30,334.18 560.30,331.60 560.30,329.02 569.50,326.00 578.30,323.20 596.00,316.70 622.40,313.50 622.40,310.60 632.20,303.90 650.20,298.40 668.00,286.10 704.30,282.40 758.40,273.90"/>
<circle cx="560.30" cy="412.00" r="3.2"/>
<circle cx="560.30" cy="409.00" r="3.2"/>
<circle cx="560.30" cy="405.80" r="3.2"/>
<circle cx="560.30" cy="402.60" r="3.2"/>
<circle cx="560.30" cy="399.00" r="3.2"/>
<circle cx="560.30" cy="395.20" r="3.2"/>
<circle cx="560.30" cy="391.60" r="3.2"/>
<circle cx="560.30" cy="388.00" r="3.2"/>
<circle cx="560.30" cy="384.20" r="3.2"/>
<circle cx="560.30" cy="380.20" r="3.2"/>
<circle cx="560.30" cy="376.40" r="3.2"/>
<circle cx="560.30" cy="372.60" r="3.2"/>
<circle cx="560.30" cy="368.60" r="3.2"/>
<circle cx="560.30" cy="364.60" r="3.2"/>
<circle cx="560.30" cy="360.40" r="3.2"/>
<circle cx="560.30" cy="344.50" r="3.2"/>
<circle cx="560.30" cy="341.92" r="3.2"/>
<circle cx="560.30" cy="339.34" r="3.2"/>
<circle cx="560.30" cy="336.76" r="3.2"/>
<circle cx="560.30" cy="334.18" r="3.2"/>
<circle cx="560.30" cy="331.60" r="3.2"/>
<circle cx="560.30" cy="329.02" r="3.2"/>
<circle cx="569.50" cy="326.00" r="3.2"/>
<circle cx="578.30" cy="323.20" r="3.2"/>
<circle cx="596.00" cy="316.70" r="3.2"/>
<circle cx="622.40" cy="313.50" r="3.2"/>
<circle cx="622.40" cy="310.60" r="3.2"/>
<circle cx="632.20" cy="303.90" r="3.2"/>
<circle cx="650.20" cy="298.40" r="3.2"/>
<circle cx="668.00" cy="286.10" r="3.2"/>
<circle cx="704.30" cy="282.40" r="3.2"/>
<circle cx="758.40" cy="273.90" r="3.2"/>
</svg></body></html>
